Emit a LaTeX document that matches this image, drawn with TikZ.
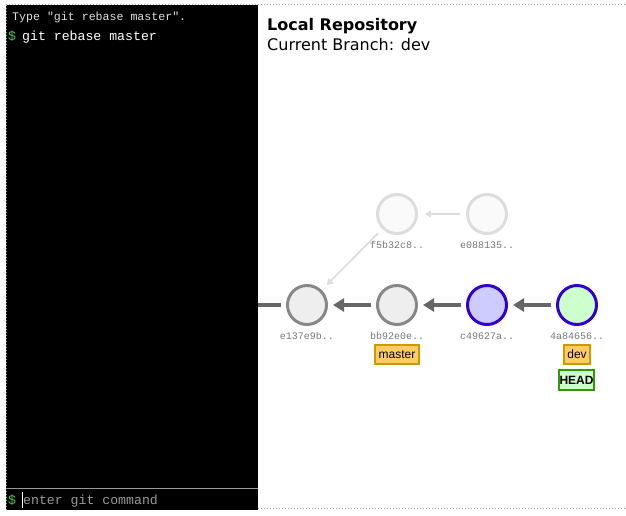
\documentclass[tikz,border=0pt]{standalone}
\usepackage{fontspec}
\setmainfont{DejaVu Sans}
\newfontfamily\termfont{Liberation Mono}
\newfontfamily\arialfont{Liberation Sans}
\usetikzlibrary{arrows.meta}
\definecolor{dotgray}{HTML}{999999}
\definecolor{promptgreen}{HTML}{44CC44}
\definecolor{hashgray}{HTML}{777777}
\definecolor{arrgray}{HTML}{666666}
\definecolor{faintgray}{HTML}{DDDDDD}
\definecolor{cgfill}{HTML}{EEEEEE}
\definecolor{cgdraw}{HTML}{888888}
\definecolor{cblue}{HTML}{CCCCFF}
\definecolor{cviolet}{HTML}{3300CC}
\definecolor{cgreen}{HTML}{CCFFCC}
\definecolor{tagfill}{HTML}{FFCC66}
\definecolor{tagdraw}{HTML}{CC9900}
\definecolor{headdraw}{HTML}{339900}
\tikzset{
  commit/.style={circle, minimum size=39pt, inner sep=0pt, line width=3pt},
  oldcommit/.style={commit, draw=cgdraw, fill=cgfill},
  newcommit/.style={commit, draw=cviolet, fill=cblue},
  headcommit/.style={commit, draw=cviolet, fill=cgreen},
  ghostcommit/.style={commit, draw=faintgray, fill=white!98!black},
  hashlbl/.style={font=\termfont\fontsize{10}{12}\selectfont, text=hashgray, inner sep=0pt},
  tagbox/.style={draw=tagdraw, fill=tagfill, line width=2pt, font=\arialfont\fontsize{12}{14}\selectfont, minimum height=19pt, inner xsep=3.5pt, inner ysep=0pt},
  headbox/.style={draw=headdraw, fill=cgreen, line width=2pt, font=\arialfont\bfseries\fontsize{12}{14}\selectfont, minimum height=20pt, inner xsep=0.5pt, inner ysep=0pt},
  bigarrow/.style={draw=arrgray, line width=4.5pt, -{Triangle[length=11pt,width=13pt]}, shorten >=5pt, shorten <=5pt},
  faintarrow/.style={draw=faintgray, line width=1.8pt, -{Triangle[length=6pt,width=7pt]}, shorten >=7pt, shorten <=6pt},
  termtext/.style={inner sep=0pt, anchor=base west},
}
\begin{document}
\begin{tikzpicture}[x=1pt,y=-1pt]
\useasboundingbox (0,0) rectangle (626,515);
% terminal
\fill[black] (6,5) rectangle (258,510);
\draw[dotgray, dotted, line width=1pt] (6,4.5) -- (626,4.5);
\draw[dotgray, dotted, line width=1pt] (258,508.5) -- (626,508.5);
\draw[dotgray, dotted, line width=1pt] (6,4.5) -- (6,510);
\draw[dotgray, line width=1pt] (6,488) -- (258,488);
\node[termtext, text=white!88!black, font=\termfont\fontsize{11.6}{13}\selectfont] (hint) at (12,20) {Type "git rebase master".};
\node[termtext, text=promptgreen, font=\termfont\fontsize{13.2}{15}\selectfont] (p1) at (8,40) {\$};
\node[termtext, text=white, font=\termfont\fontsize{13.2}{15}\selectfont] (cmd) at (22,40) {git rebase master};
\node[termtext, text=promptgreen, font=\termfont\fontsize{13.2}{15}\selectfont] (p2) at (8,504) {\$};
\draw[white, line width=1.2pt] (22.5,492) -- (22.5,508);
\node[termtext, text=dotgray, font=\termfont\fontsize{13.2}{15}\selectfont] (input) at (23,504) {enter git command};
% title
\node[termtext, font=\bfseries\fontsize{16}{19}\selectfont] (title) at (267,30) {Local Repository};
\node[termtext, font=\fontsize{16}{19}\selectfont] (branch) at (267,50) {Current Branch: dev};
% commits
\node[ghostcommit] (f5b) at (397,214) {};
\node[ghostcommit] (e08) at (487,214) {};
\node[oldcommit] (e13) at (307,305) {};
\node[oldcommit] (bb9) at (397,305) {};
\node[newcommit] (c49) at (487,305) {};
\node[headcommit] (a84) at (577,305) {};
\node[hashlbl] (lf5b) at (397,245) {f5b32c8..};
\node[hashlbl] (le08) at (487,245) {e088135..};
\node[hashlbl] (le13) at (307,336) {e137e9b..};
\node[hashlbl] (lbb9) at (397,336) {bb92e0e..};
\node[hashlbl] (lc49) at (487,336) {c49627a..};
\node[hashlbl] (la84) at (577,336) {4a84656..};
% tags
\node[tagbox] (master) at (397,354.5) {master};
\node[tagbox] (dev) at (577,354.5) {dev};
\node[headbox] (head) at (576.5,380) {HEAD};
% connectors
\coordinate (lstub) at (258,305);
\draw[arrgray, line width=4.5pt, shorten >=5pt] (lstub) -- (e13);
\draw[bigarrow] (bb9) -- (e13);
\draw[bigarrow] (c49) -- (bb9);
\draw[bigarrow] (a84) -- (c49);
\draw[faintarrow] (e08) -- (f5b);
\draw[faintarrow] (f5b) -- (e13);
\end{tikzpicture}
\end{document}
